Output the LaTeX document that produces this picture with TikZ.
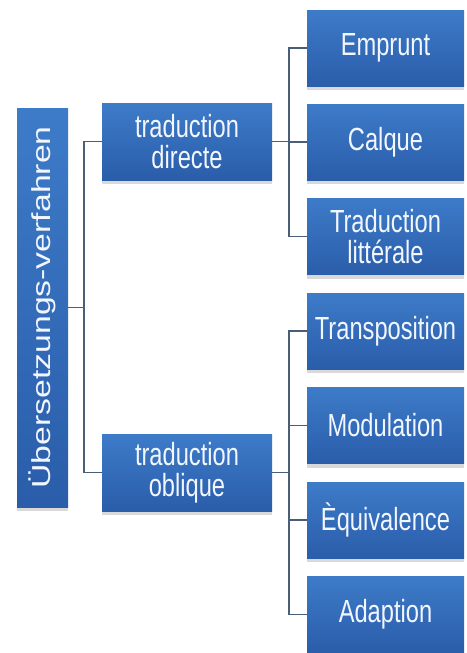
\documentclass[tikz,border=0pt]{standalone}
\usepackage{fontspec}
\setmainfont{Liberation Sans}
\newfontfamily\narrowfont{Liberation Sans}[FakeStretch=0.74]
\newfontfamily\tallfont{Liberation Sans}[FakeStretch=1.3]
\usetikzlibrary{shadows}
\definecolor{boxTop}{HTML}{3D7BC8}
\definecolor{boxBottom}{HTML}{2A5DAA}
\definecolor{linkGray}{HTML}{4B5E78}
\definecolor{labelWhite}{HTML}{F2F6FF}
\tikzset{
  procbox/.style={rectangle, inner sep=0pt, top color=boxTop, bottom color=boxBottom,
    text=labelWhite, align=center, font=\narrowfont\fontsize{32}{31}\selectfont,
    drop shadow={shadow xshift=0pt, shadow yshift=-4pt, opacity=0.3}},
  leafbox/.style={procbox, minimum width=157pt, minimum height=76pt},
  midbox/.style={procbox, minimum width=170pt, minimum height=77pt},
  link/.style={draw=linkGray, line width=1.8pt}
}

\begin{document}
\begin{tikzpicture}[x=1pt, y=-1pt]
        \useasboundingbox (0,0) rectangle (466,653);

        % root
        \node[procbox, rotate=90, minimum width=399pt, minimum height=51pt,
              font=\tallfont\fontsize{26}{26}\selectfont] (root) at (42.5,307.5) {Übersetzungs-verfahren};

        % second level
        \node[midbox] (directe) at (187,141.5) {traduction\\directe};
        \node[midbox] (oblique) at (187,472.5) {traduction\\oblique};

        % traduction directe
        \node[leafbox] (emprunt) at (385.5,48) {Emprunt};
        \node[leafbox] (calque) at (385.5,142) {Calque};
        \node[leafbox] (litterale) at (385.5,236.5) {Traduction\\littérale};

        % traduction oblique
        \node[leafbox] (transposition) at (385.5,331) {Transposition};
        \node[leafbox] (modulation) at (385.5,425.5) {Modulation};
        \node[leafbox] (equivalence) at (385.5,520) {Èquivalence};
        \node[leafbox] (adaption) at (385.5,614.5) {Adaption};

        % connectors
        \draw[link] (directe.west) -- ++(-18,0) coordinate (lbus) |- (oblique.west);
        \draw[link] (root.south) -- (root.south -| lbus);

        \draw[link] (emprunt.west) -- ++(-18,0) coordinate (rbusa) |- (litterale.west);
        \draw[link] (calque.west) -- (calque.west -| rbusa);
        \draw[link] (directe.east) -- (directe.east -| rbusa);

        \draw[link] (transposition.west) -- ++(-18,0) coordinate (rbusb) |- (adaption.west);
        \draw[link] (modulation.west) -- (modulation.west -| rbusb);
        \draw[link] (equivalence.west) -- (equivalence.west -| rbusb);
        \draw[link] (oblique.east) -- (oblique.east -| rbusb);
    \end{tikzpicture}
\end{document}
